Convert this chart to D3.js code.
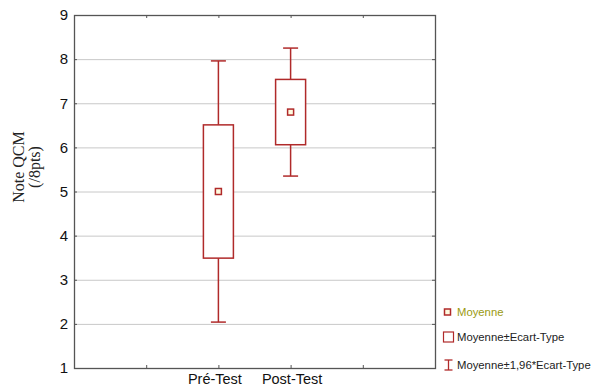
<!DOCTYPE html>
<html>
<head>
<meta charset="utf-8">
<script src="https://cdn.jsdelivr.net/npm/d3@7"></script>
<style>
  body { margin: 0; background: #fff; }
  svg { display: block; }
</style>
</head>
<body>
<svg id="chart" width="594" height="386"></svg>
<script>
// data
const groups = ['Pré-Test', 'Post-Test']
const groupPos = [2, 3] // slot on the category axis
const means = [5.0, 6.8]
const sds = [1.51, 0.74]
const yTicks = [1, 2, 3, 4, 5, 6, 7, 8, 9]
const xTicks = [1, 2, 3, 4]
const legendLabels = ['Moyenne', 'Moyenne±Ecart-Type', 'Moyenne±1,96*Ecart-Type']

const red = '#b02a2a'
const olive = '#9a9a10'

const svg = d3.select('#chart')
const margin = { left: 74, top: 15, right: 435, bottom: 368 }

const x = d3.scaleLinear().domain([0, 5]).range([margin.left, margin.right])
const y = d3.scaleLinear().domain([1, 9]).range([margin.bottom, margin.top])

// horizontal grid
svg.append('g')
  .selectAll('line')
  .data(yTicks.slice(1, -1))
  .join('line')
  .attr('x1', margin.left).attr('x2', margin.right)
  .attr('y1', (d) => y(d) + 0.5).attr('y2', (d) => y(d) + 0.5)
  .attr('stroke', '#c8c8c8')
  .attr('stroke-width', 1)

// left axis with inward ticks
const yAxis = svg.append('g')
  .attr('transform', `translate(${margin.left},0)`)
  .call(d3.axisLeft(y).tickValues(yTicks).tickSize(-3).tickPadding(6).tickFormat(d3.format('d')))
yAxis.select('.domain').remove()
yAxis.selectAll('line').attr('stroke', '#555')
yAxis.selectAll('text')
  .attr('font-family', 'Liberation Sans, Arial, sans-serif')
  .attr('font-size', 15)
  .attr('fill', '#111')

// right side inward ticks
const yAxisR = svg.append('g')
  .attr('transform', `translate(${margin.right},0)`)
  .call(d3.axisRight(y).tickValues(yTicks).tickSize(-3).tickFormat(''))
yAxisR.select('.domain').remove()
yAxisR.selectAll('line').attr('stroke', '#555')

// bottom axis
const xAxis = svg.append('g')
  .attr('transform', `translate(0,${margin.bottom})`)
  .call(d3.axisBottom(x).tickValues(xTicks).tickSize(-3).tickPadding(6)
    .tickFormat((d) => { const i = groupPos.indexOf(d); return i >= 0 ? groups[i] : '' }))
xAxis.select('.domain').remove()
xAxis.selectAll('line').attr('stroke', '#555')
xAxis.selectAll('text')
  .attr('font-family', 'Liberation Sans, Arial, sans-serif')
  .attr('font-size', 14.5)
  .attr('fill', '#111')
  .attr('dx', (d) => (d === 2 ? -4 : 1))

// top inward ticks
const xAxisT = svg.append('g')
  .attr('transform', `translate(0,${margin.top})`)
  .call(d3.axisTop(x).tickValues(xTicks).tickSize(-3).tickFormat(''))
xAxisT.select('.domain').remove()
xAxisT.selectAll('line').attr('stroke', '#555')

// frame
svg.append('rect')
  .attr('x', margin.left + 0.5).attr('y', margin.top + 0.5)
  .attr('width', margin.right - margin.left).attr('height', margin.bottom - margin.top)
  .attr('fill', 'none')
  .attr('stroke', '#555')
  .attr('stroke-width', 1.3)

// y title
const yTitle = svg.append('text')
  .attr('transform', 'translate(24,167) rotate(-90)')
  .attr('text-anchor', 'middle')
  .attr('font-family', 'Liberation Serif, Times New Roman, serif')
  .attr('font-size', 16)
  .attr('fill', '#222')
yTitle.append('tspan').attr('x', 0).attr('dy', 0).text('Note QCM')
yTitle.append('tspan').attr('x', 0).attr('dy', 15.5).text('(/8pts)')

// boxes
const boxW = 30
const capW = 15
const stats = groups.map((g, i) => ({ name: g, pos: groupPos[i], mean: means[i], sd: sds[i] }))

const item = svg.append('g').selectAll('g')
  .data(stats)
  .join('g')
  .attr('transform', (d) => `translate(${x(d.pos)},0)`)
  .attr('stroke', red)
  .attr('stroke-width', 1.5)
  .attr('fill', 'none')

// whiskers
item.append('line')
  .attr('y1', (d) => y(d.mean + 1.96 * d.sd)).attr('y2', (d) => y(d.mean + d.sd))
item.append('line')
  .attr('y1', (d) => y(d.mean - d.sd)).attr('y2', (d) => y(d.mean - 1.96 * d.sd))
item.append('line')
  .attr('x1', -capW / 2).attr('x2', capW / 2)
  .attr('y1', (d) => y(d.mean + 1.96 * d.sd)).attr('y2', (d) => y(d.mean + 1.96 * d.sd))
item.append('line')
  .attr('x1', -capW / 2).attr('x2', capW / 2)
  .attr('y1', (d) => y(d.mean - 1.96 * d.sd)).attr('y2', (d) => y(d.mean - 1.96 * d.sd))

// box
item.append('rect')
  .attr('x', -boxW / 2)
  .attr('y', (d) => y(d.mean + d.sd))
  .attr('width', boxW)
  .attr('height', (d) => y(d.mean - d.sd) - y(d.mean + d.sd))
  .attr('fill', '#fff')

// mean marker
item.append('rect')
  .attr('x', -3).attr('y', (d) => y(d.mean) - 3)
  .attr('width', 6).attr('height', 6)
  .attr('fill', '#fffbe0')

// legend
const legend = svg.append('g').attr('transform', 'translate(443,0)')
const rowY = [312, 337, 365]

legend.append('rect')
  .attr('x', 1.5).attr('y', rowY[0] - 3).attr('width', 6).attr('height', 6)
  .attr('fill', '#fffbe0').attr('stroke', red).attr('stroke-width', 1.5)
legend.append('rect')
  .attr('x', 0.5).attr('y', rowY[1] - 5).attr('width', 10).attr('height', 10)
  .attr('fill', 'none').attr('stroke', red).attr('stroke-width', 1.2)
const ibeam = legend.append('g').attr('stroke', red).attr('stroke-width', 1.3)
ibeam.append('line').attr('x1', 5.5).attr('x2', 5.5).attr('y1', rowY[2] - 5).attr('y2', rowY[2] + 5)
ibeam.append('line').attr('x1', 1.5).attr('x2', 9.5).attr('y1', rowY[2] - 5).attr('y2', rowY[2] - 5)
ibeam.append('line').attr('x1', 1.5).attr('x2', 9.5).attr('y1', rowY[2] + 5).attr('y2', rowY[2] + 5)

legend.selectAll('text.lab')
  .data(legendLabels)
  .join('text')
  .attr('class', 'lab')
  .attr('x', 14)
  .attr('y', (d, i) => rowY[i])
  .attr('dy', '0.35em')
  .attr('font-family', 'Liberation Sans, Arial, sans-serif')
  .attr('font-size', 11.3)
  .attr('fill', (d, i) => (i === 0 ? olive : '#222'))
  .text((d) => d)
</script>
</body>
</html>
